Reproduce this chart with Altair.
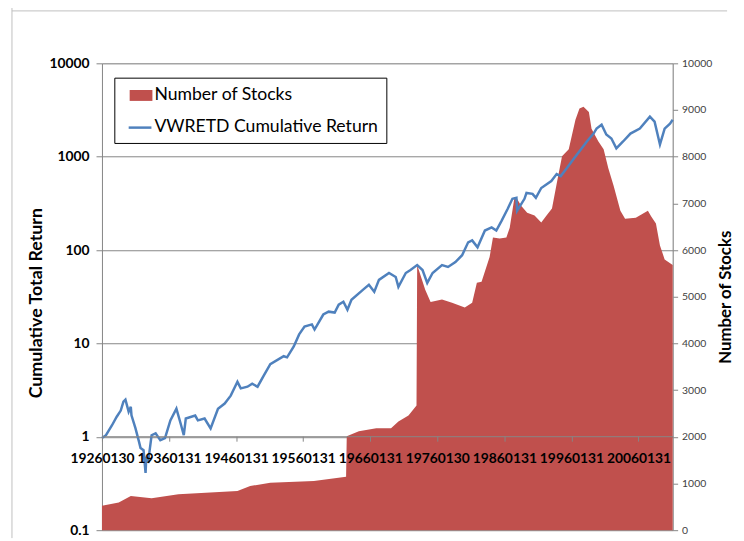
import altair as alt
import pandas as pd

# ---- data ----
ret_year = [1926.0, 1926.6, 1927.5, 1928.2, 1928.8, 1929.2, 1929.5, 1929.98, 1930.3, 1930.4,
            1931.0, 1931.5, 1931.75, 1932.2, 1932.5, 1932.6, 1932.9, 1933.4, 1934.0, 1934.7,
            1935.4, 1936.2, 1937.1, 1937.8, 1938.2, 1938.5, 1939.9, 1940.3, 1941.3, 1942.2,
            1943.3, 1944.3, 1945.2, 1946.2, 1946.7, 1947.7, 1948.4, 1949.2, 1950.1, 1951.1,
            1953.1, 1953.6, 1954.6, 1955.4, 1956.2, 1957.3, 1957.7, 1959.0, 1959.8, 1960.7,
            1961.3, 1962.0, 1962.6, 1963.2, 1964.9, 1965.8, 1966.6, 1967.3, 1968.8, 1969.8,
            1970.2, 1971.3, 1972.0, 1973.0, 1973.8, 1974.5, 1975.3, 1976.7, 1977.6, 1978.7,
            1979.7, 1980.6, 1981.2, 1982.0, 1983.1, 1984.1, 1984.8, 1985.6, 1986.5, 1987.2,
            1987.8, 1987.9, 1989.0, 1989.3, 1990.2, 1990.7, 1991.5, 1993.0, 1993.8, 1994.4,
            1995.3, 1996.4, 1997.4, 1998.3, 1999.3, 1999.75, 2000.5, 2001.2, 2001.96, 2002.7,
            2003.7, 2004.8, 2006.2, 2007.7, 2008.4, 2009.2, 2009.9, 2010.7, 2011.1]
ret_value = [0.97, 1.04, 1.33, 1.64, 1.91, 2.38, 2.5, 1.86, 2.1, 1.7,
             1.23, 0.9, 0.76, 0.72, 0.41, 0.58, 0.55, 1.04, 1.09, 0.92,
             0.97, 1.5, 2.0, 1.33, 1.04, 1.57, 1.69, 1.5, 1.57, 1.23,
             2.0, 2.27, 2.76, 3.88, 3.3, 3.44, 3.7, 3.44, 4.5, 6.0,
             7.3, 7.1, 9.3, 12.5, 15.2, 16.0, 14.1, 20.4, 21.9, 21.4,
             26.0, 28.0, 23.0, 29.4, 37.5, 42.4, 35.7, 47.9, 56.8, 51.5,
             40.4, 56.8, 61.1, 69.0, 61.1, 44.5, 56.8, 69.0, 66.0, 74.3,
             88.1, 121, 127, 107, 162, 175, 162, 207, 277, 354,
             362, 264, 354, 409, 400, 362, 462, 548, 651, 620,
             753, 962, 1197, 1455, 1770, 2000, 2203, 1726, 1567, 1228,
             1455, 1770, 2000, 2680, 2371, 1352, 2000, 2260, 2491]

stock_year = [1926.0, 1928.5, 1930.3, 1933.4, 1937.4, 1946.2, 1948.1, 1951.1, 1957.6, 1962.4,
              1962.5, 1964.3, 1966.9, 1969.1, 1970.2, 1971.7, 1972.9, 1973.0, 1974.2, 1975.0,
              1976.7, 1978.2, 1980.1, 1981.2, 1981.9, 1982.6, 1983.8, 1984.3, 1985.3, 1986.3,
              1986.8, 1987.5, 1987.8, 1988.5, 1989.4, 1990.5, 1991.5, 1992.4, 1993.1, 1993.8,
              1994.6, 1995.6, 1996.6, 1997.2, 1997.8, 1998.6, 1999.0, 2000.0, 2000.8, 2001.5,
              2002.3, 2003.3, 2004.0, 2005.6, 2007.4, 2007.9, 2008.6, 2009.2, 2009.9, 2011.1]
stock_count = [523, 593, 735, 685, 770, 840, 946, 1017, 1053, 1144,
               2013, 2119, 2182, 2182, 2330, 2458, 2670, 5680, 5150, 4890,
               4940, 4870, 4770, 4870, 5300, 5320, 5850, 6270, 6250, 6270,
               6480, 7120, 7120, 6950, 6800, 6740, 6590, 6760, 6890, 7420,
               8010, 8160, 8790, 9030, 9070, 8960, 8600, 8330, 8160, 7750,
               7370, 6840, 6670, 6690, 6840, 6720, 6570, 6100, 5800, 5680]

tick_years = [1926, 1936, 1946, 1956, 1966, 1976, 1986, 1996, 2006]
tick_labels = ["19260130", "19360131", "19460131", "19560131", "19660131",
               "19760130", "19860131", "19960131", "20060131"]
left_ticks = [0.1, 1, 10, 100, 1000, 10000]
right_ticks = [0, 1000, 2000, 3000, 4000, 5000, 6000, 7000, 8000, 9000, 10000]
legend_labels = ["Number of Stocks", "VWRETD Cumulative Return"]

RED = "#C0504D"
BLUE = "#4F81BD"
GRID = "#868686"
FONT = "Lato"

ret_df = pd.DataFrame({"year": ret_year, "ret": ret_value})
stk_df = pd.DataFrame({"year": stock_year, "n": stock_count})
one = pd.DataFrame({"k": [0]})

label_expr = ""
for yv, lab in zip(tick_years, tick_labels):
    label_expr += f"datum.value == {yv} ? '{lab}' : "
label_expr += "''"

xscale = alt.Scale(domain=[1926, 2011.1], nice=False, zero=False)
xaxis = alt.Axis(values=tick_years, labelExpr=label_expr, offset=-95, zindex=1,
                 grid=False, title=None, domainColor=GRID, tickColor=GRID, tickSize=5,
                 labelFont=FONT, labelFontSize=14, labelFontWeight="bold", labelColor="black",
                 labelPadding=11, labelOverlap=False, labelFlush=False)

area = alt.Chart(stk_df).mark_area(color=RED, opacity=1).encode(
    x=alt.X("year:Q", scale=xscale, axis=xaxis),
    y=alt.Y("n:Q", scale=alt.Scale(domain=[0, 10000], nice=False, zero=True),
            axis=alt.Axis(orient="right", values=right_ticks, format="d", grid=False,
                          domainColor=GRID, tickColor=GRID, tickSize=5,
                          labelFont=FONT, labelFontSize=10.5, labelColor="#404040", labelPadding=4,
                          title="Number of Stocks", titleFont=FONT, titleFontSize=17,
                          titleFontWeight="bold", titleColor="black", titleAngle=270,
                          titleX=53, titleY=236, titleAlign="center", titleBaseline="middle")),
)

line = alt.Chart(ret_df).mark_line(color=BLUE, strokeWidth=2.5).encode(
    x=alt.X("year:Q", scale=xscale, axis=xaxis),
    y=alt.Y("ret:Q", scale=alt.Scale(type="log", domain=[0.1, 10000], nice=False),
            axis=alt.Axis(orient="left", values=left_ticks, format="~g", grid=True,
                          gridColor=GRID, gridWidth=1, domainColor=GRID, tickColor=GRID,
                          tickSize=6, labelFont=FONT, labelFontSize=14, labelFontWeight="bold",
                          labelColor="black", labelPadding=7,
                          title="Cumulative Total Return", titleFont=FONT, titleFontSize=18,
                          titleFontWeight="bold", titleColor="black", titleAngle=270,
                          titleX=-66, titleY=242, titleAlign="center", titleBaseline="middle")),
)

# legend box (drawn by hand, as in the reference)
box = alt.Chart(one).mark_rect(fill="white", stroke="black", strokeWidth=1).encode(
    x=alt.value(13), x2=alt.value(288), y=alt.value(15), y2=alt.value(81))
swatch = alt.Chart(one).mark_rect(fill=RED).encode(
    x=alt.value(28), x2=alt.value(51), y=alt.value(27), y2=alt.value(38))
lswatch = alt.Chart(one).mark_rule(color=BLUE, strokeWidth=2.5).encode(
    x=alt.value(27), x2=alt.value(50), y=alt.value(65))
t1 = alt.Chart(pd.DataFrame({"t": [legend_labels[0]]})).mark_text(
    align="left", baseline="middle", font=FONT, fontSize=17.8, color="black").encode(
    x=alt.value(53), y=alt.value(32), text="t:N")
t2 = alt.Chart(pd.DataFrame({"t": [legend_labels[1]]})).mark_text(
    align="left", baseline="middle", font=FONT, fontSize=17.8, color="black").encode(
    x=alt.value(53), y=alt.value(64), text="t:N")

# outer chart frame
frame_left = alt.Chart(one).mark_rule(color="#BFBFBF", strokeWidth=1).encode(
    x=alt.value(-91), y=alt.value(-61), y2=alt.value(480))
frame_top = alt.Chart(one).mark_rule(color="#BFBFBF", strokeWidth=1).encode(
    x=alt.value(-91), x2=alt.value(632), y=alt.value(-53))

chart = alt.layer(area, line, box, swatch, lswatch, t1, t2, frame_left, frame_top).resolve_scale(
    y="independent"
).properties(
    width=577, height=472,
    padding={"left": 95, "top": 53, "right": 64, "bottom": 8},
    autosize=alt.AutoSizeParams(type="none"),
).configure_view(stroke=None).configure(font=FONT)

chart.save("out.html", embed_options={"renderer": "svg", "actions": False})
